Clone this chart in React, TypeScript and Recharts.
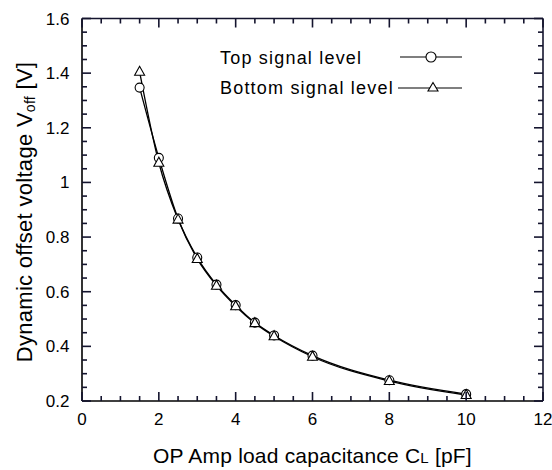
import React from 'react';
import { LineChart, Line, XAxis, YAxis } from 'recharts';

const capacitance = [1.5, 2, 2.5, 3, 3.5, 4, 4.5, 5, 6, 8, 10];
const topLevel = [1.347, 1.09, 0.868, 0.725, 0.626, 0.551, 0.487, 0.44, 0.366, 0.276, 0.225];
const bottomLevel = [1.405, 1.072, 0.864, 0.72, 0.622, 0.547, 0.485, 0.437, 0.362, 0.273, 0.222];

const xMajorTicks = [0, 2, 4, 6, 8, 10, 12];
const xAllTicks = [0, 0.5, 1, 1.5, 2, 2.5, 3, 3.5, 4, 4.5, 5, 5.5, 6, 6.5, 7, 7.5, 8, 8.5, 9, 9.5, 10, 10.5, 11, 11.5, 12];
const yMajorTicks = [0.2, 0.4, 0.6, 0.8, 1, 1.2, 1.4, 1.6];
const yAllTicks = [
  0.2, 0.25, 0.3, 0.35, 0.4, 0.45, 0.5, 0.55, 0.6, 0.65, 0.7, 0.75, 0.8, 0.85, 0.9, 0.95,
  1, 1.05, 1.1, 1.15, 1.2, 1.25, 1.3, 1.35, 1.4, 1.45, 1.5, 1.55, 1.6,
];

const data = capacitance.map((c, i) => ({ c, top: topLevel[i], bottom: bottomLevel[i] }));

const FONT = '"Liberation Sans", Arial, sans-serif';
const INK = '#000';
const TICK_INK = '#14142e';
const W = 552;
const H = 470;
const MARGIN = { top: 18.5, right: 9, bottom: 0, left: 0 };
const X_AXIS_H = 69;
const Y_AXIS_W = 82;
const PLOT_TOP = MARGIN.top;
const PLOT_RIGHT = W - MARGIN.right;
const MAJOR_LEN = 9;
const MINOR_LEN = 5;
const SW = 1.6;

const isMajor = (list: number[], v: number) => list.some((m) => Math.abs(m - v) < 1e-9);
const fmtY = (v: number) => String(Number(v.toFixed(1)));

// bottom axis tick: inward mark at the bottom, mirrored mark on the top edge
const XTick = (props: any) => {
  const { x, y, payload } = props;
  const v = payload.value;
  const major = isMajor(xMajorTicks, v);
  const len = major ? MAJOR_LEN : MINOR_LEN;
  return (
    <g>
      {v === 0 && <path d={`M${x},${PLOT_TOP}H${PLOT_RIGHT}`} stroke={TICK_INK} strokeWidth={SW} fill="none" />}
      <path d={`M${x},${y}V${y - len}`} stroke={TICK_INK} strokeWidth={SW} fill="none" />
      <path d={`M${x},${PLOT_TOP}V${PLOT_TOP + len}`} stroke={TICK_INK} strokeWidth={SW} fill="none" />
      {major && (
        <text x={x} y={y + 12} dy="0.71em" textAnchor="middle" fontSize={17} fontFamily={FONT} fill={INK}>
          {v}
        </text>
      )}
    </g>
  );
};

// left axis tick: inward mark on the left, mirrored mark on the right edge
const YTick = (props: any) => {
  const { x, y, payload } = props;
  const v = payload.value;
  const major = isMajor(yMajorTicks, v);
  const len = major ? MAJOR_LEN : MINOR_LEN;
  return (
    <g>
      {isMajor([0.2], v) && (
        <path d={`M${PLOT_RIGHT},${PLOT_TOP}V${y}`} stroke={TICK_INK} strokeWidth={SW} fill="none" />
      )}
      <path d={`M${x},${y}H${x + len}`} stroke={TICK_INK} strokeWidth={SW} fill="none" />
      <path d={`M${PLOT_RIGHT},${y}H${PLOT_RIGHT - len}`} stroke={TICK_INK} strokeWidth={SW} fill="none" />
      {major && (
        <text x={x - 12.5} y={y} dy="0.355em" textAnchor="end" fontSize={17} fontFamily={FONT} fill={INK}>
          {fmtY(v)}
        </text>
      )}
    </g>
  );
};

const CircleDot = (props: any) => {
  const { cx, cy, index } = props;
  if (cx == null || cy == null) return null;
  return <circle key={`c-${index}`} cx={cx} cy={cy} r={4.5} fill="#fff" stroke={INK} strokeWidth={1.1} />;
};

const TriangleDot = (props: any) => {
  const { cx, cy, index } = props;
  if (cx == null || cy == null) return null;
  return (
    <path
      key={`t-${index}`}
      d={`M${cx},${cy - 5.5} L${cx - 5},${cy + 3.5} L${cx + 5},${cy + 3.5} Z`}
      fill="#fff"
      stroke={INK}
      strokeWidth={1.1}
    />
  );
};

export default function App() {
  const lineStyle = { stroke: INK, strokeWidth: SW };

  return (
    <div style={{ position: 'absolute', left: 0, top: 0, width: W, height: H, background: '#fff' }}>
      <LineChart width={W} height={H} data={data} margin={MARGIN}>
        <XAxis type="number" dataKey="c" domain={[0, 12]} allowDataOverflow ticks={xAllTicks} interval={0}
          height={X_AXIS_H} tickSize={0} tickMargin={0} tick={<XTick />} tickLine={false} axisLine={lineStyle} />
        <YAxis type="number" domain={[0.2, 1.6]} allowDataOverflow ticks={yAllTicks} interval={0}
          width={Y_AXIS_W} tickSize={0} tickMargin={0} tick={<YTick />} tickLine={false} axisLine={lineStyle} />

        <Line type="monotone" dataKey="top" stroke={INK} strokeWidth={1.3}
          dot={CircleDot} activeDot={false} isAnimationActive={false} />
        <Line type="monotone" dataKey="bottom" stroke={INK} strokeWidth={1.3}
          dot={TriangleDot} activeDot={false} isAnimationActive={false} />
      </LineChart>

      <svg width={W} height={H} style={{ position: 'absolute', left: 0, top: 0, pointerEvents: 'none' }}>
        <g fontFamily={FONT} fill={INK}>
          <text x={220} y={63.5} fontSize={18} letterSpacing={1.2}>Top signal level</text>
          <line x1={400} y1={57} x2={462} y2={57} stroke={INK} strokeWidth={1.2} />
          <circle cx={431} cy={57} r={5} fill="#fff" stroke={INK} strokeWidth={1.1} />
          <text x={220} y={93.5} fontSize={18} letterSpacing={1.2}>Bottom signal level</text>
          <line x1={398} y1={88} x2={462} y2={88} stroke={INK} strokeWidth={1.2} />
          <path d="M433,82.5 L428,91 L438,91 Z" fill="#fff" stroke={INK} strokeWidth={1.1} />

          <text x={312.5} y={463} fontSize={21} letterSpacing={0.2} textAnchor="middle">
            OP Amp load capacitance C<tspan fontSize={15}>L</tspan> [pF]
          </text>
          <text transform="translate(32,212) rotate(-90)" x={0} y={0} fontSize={22} letterSpacing={0.3} textAnchor="middle">
            Dynamic offset voltage V<tspan fontSize={14} dy={3}>off</tspan><tspan dy={-3}> [V]</tspan>
          </text>
        </g>
      </svg>
    </div>
  );
}
